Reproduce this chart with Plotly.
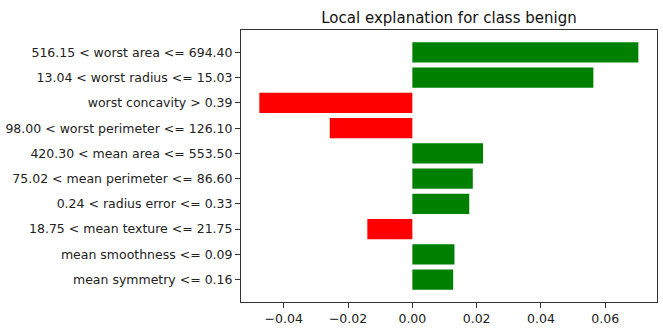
import plotly.graph_objects as go

features = [
    "516.15 < worst area <= 694.40",
    "13.04 < worst radius <= 15.03",
    "worst concavity > 0.39",
    "98.00 < worst perimeter <= 126.10",
    "420.30 < mean area <= 553.50",
    "75.02 < mean perimeter <= 86.60",
    "0.24 < radius error <= 0.33",
    "18.75 < mean texture <= 21.75",
    "mean smoothness <= 0.09",
    "mean symmetry <= 0.16",
]
weights = [0.0703, 0.0563, -0.0476, -0.0257, 0.0220, 0.0188, 0.0177, -0.0140, 0.0131, 0.0127]
xticks = [-0.04, -0.02, 0.00, 0.02, 0.04, 0.06]
title = "Local explanation for class benign"

colors = ["#008000" if w > 0 else "#ff0000" for w in weights]

fig = go.Figure(go.Bar(
    x=weights, y=features, orientation="h", width=0.8,
    marker=dict(color=colors, line=dict(width=0)),
))

font = "DejaVu Sans, sans-serif"
fig.update_layout(
    width=663, height=335,
    margin=dict(l=240, r=5, t=30, b=33),
    plot_bgcolor="white", paper_bgcolor="white",
    showlegend=False,
    font=dict(family=font, size=12.5, color="#222"),
    title=dict(text=title, x=0.5, xref="paper", xanchor="center",
               y=1 - 17.5 / 335, yref="container", yanchor="middle",
               font=dict(family=font, size=15, color="#111")),
)
fig.update_xaxes(
    range=[-0.0533, 0.0761], tickvals=xticks, tickformat=".2f",
    showgrid=False, zeroline=False,
    showline=True, linecolor="#333", linewidth=1, mirror=True,
    ticks="outside", ticklen=5, tickcolor="#333", tickwidth=1,
)
fig.update_yaxes(
    categoryorder="array", categoryarray=features,
    range=[9.89, -0.89],
    showgrid=False, zeroline=False,
    showline=True, linecolor="#333", linewidth=1, mirror=True,
    ticks="outside", ticklen=5, tickcolor="#333", tickwidth=1,
)

fig.write_html("out.html")
